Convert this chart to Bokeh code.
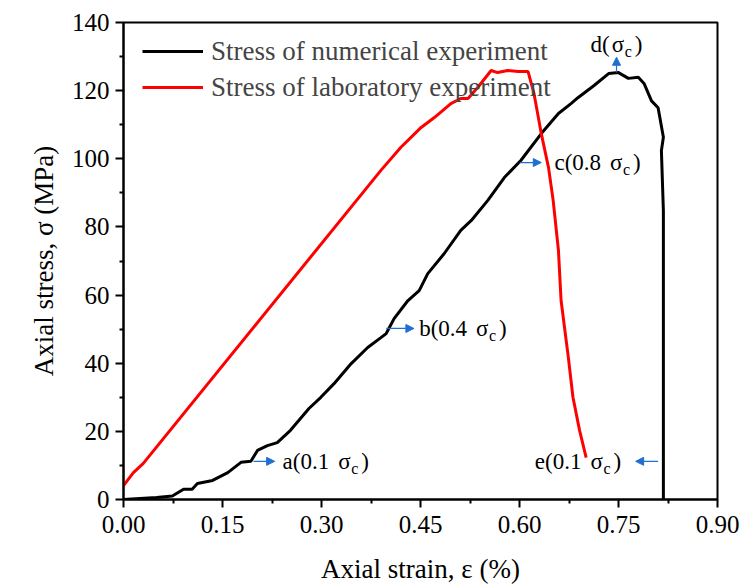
from bokeh.plotting import figure
from bokeh.models import (Range1d, FixedTicker, Label, Arrow, NormalHead,
                          Legend, LegendItem)
from bokeh.embed import file_html
from bokeh.resources import INLINE

# ---------------- data ----------------
num_strain = [0, 0.05, 0.074, 0.091, 0.104, 0.112, 0.135, 0.158, 0.178, 0.193,
              0.203, 0.218, 0.233, 0.253, 0.281, 0.299, 0.319, 0.345, 0.370,
              0.390, 0.398, 0.410, 0.431, 0.448, 0.461, 0.486, 0.511, 0.527,
              0.552, 0.577, 0.602, 0.633, 0.659, 0.678, 0.689, 0.713, 0.735,
              0.750, 0.765, 0.780, 0.789, 0.800, 0.810, 0.818, 0.815, 0.818,
              0.818]
num_stress = [0, 0.6, 1.0, 3.0, 3.0, 4.7, 5.6, 7.9, 10.9, 11.2,
              14.4, 15.8, 16.7, 20.3, 26.7, 30.0, 34.0, 39.9, 44.6,
              47.5, 48.7, 53.1, 58.4, 61.3, 66.3, 72.2, 79.0, 81.9,
              87.8, 94.5, 99.5, 107.4, 113.3, 116.2, 118.0, 121.5, 125.0,
              125.3, 123.6, 123.9, 122.0, 117.0, 115.0, 106.3, 102.4, 84.8,
              0]

lab_strain = [0, 0.015, 0.030, 0.390, 0.420, 0.451, 0.471,
              0.496, 0.511, 0.522, 0.537, 0.557, 0.567, 0.582, 0.598, 0.613,
              0.622, 0.633, 0.644, 0.651, 0.659, 0.663, 0.674, 0.681, 0.691,
              0.701]
lab_stress = [4.1, 7.9, 10.6, 96.6, 103.3, 109.2, 112.1,
              116.2, 117.7, 117.7, 121.0, 125.9, 125.3, 125.9, 125.6, 125.6,
              119.1, 107.4, 97.4, 87.8, 73.1, 58.4, 41.7, 30.0, 20.3,
              12.3]

series_names = ["Stress of numerical experiment", "Stress of laboratory experiment"]
series_colors = ["#000000", "#ff0000"]

x_ticks = [0.0, 0.15, 0.30, 0.45, 0.60, 0.75, 0.90]
x_tick_labels = ["0.00", "0.15", "0.30", "0.45", "0.60", "0.75", "0.90"]
x_minor = [0.075, 0.225, 0.375, 0.525, 0.675, 0.825]
y_ticks = [0, 20, 40, 60, 80, 100, 120, 140]
y_tick_labels = ["0", "20", "40", "60", "80", "100", "120", "140"]
y_minor = [10, 30, 50, 70, 90, 110, 130]

# annotation points: (label prefix, arrow start, arrow end, text anchor, align)
ann_prefix = ["a(0.1", "b(0.4", "c(0.8", "d(", "e(0.1"]
ann_arrow_start = [(0.197, 11.2), (0.398, 50.2), (0.601, 98.9), (0.747, 125.3), (0.810, 11.2)]
ann_arrow_end = [(0.229, 11.2), (0.440, 50.2), (0.633, 98.9), (0.747, 129.8), (0.776, 11.2)]
ann_text_pos = [(0.241, 11.2), (0.448, 50.2), (0.653, 98.9), (0.747, 133.6), (0.754, 11.2)]
ann_align = ["left", "left", "left", "center", "right"]

FONT = "Liberation Serif"
BLUE = "#1f6fd1"

p = figure(width=742, height=588, output_backend="svg", toolbar_location=None,
           x_range=Range1d(0, 0.9), y_range=Range1d(0, 140),
           min_border_left=123, min_border_right=25, min_border_top=22,
           min_border_bottom=89)
p.grid.visible = False
p.outline_line_color = "black"
p.outline_line_width = 2
p.background_fill_color = "white"
p.border_fill_color = "white"

r1 = p.line(num_strain, num_stress, line_color=series_colors[0], line_width=3)
r2 = p.line(lab_strain, lab_stress, line_color=series_colors[1], line_width=3)

for ax, ticks, minor, labels in ((p.xaxis[0], x_ticks, x_minor, x_tick_labels),
                                 (p.yaxis[0], y_ticks, y_minor, y_tick_labels)):
    ax.ticker = FixedTicker(ticks=ticks, minor_ticks=minor)
    ax.major_label_overrides = {t: l for t, l in zip(ticks, labels)}
    ax.axis_line_width = 2
    ax.major_tick_line_width = 2
    ax.minor_tick_line_width = 2
    ax.major_tick_out = 8
    ax.major_tick_in = 0
    ax.minor_tick_out = 4
    ax.minor_tick_in = 0
    ax.major_label_text_font = FONT
    ax.major_label_text_font_size = "25px"
    ax.major_label_text_color = "black"
    ax.axis_label_text_font = FONT
    ax.axis_label_text_font_size = "27px"
    ax.axis_label_text_font_style = "normal"
    ax.axis_label_text_color = "black"

p.xaxis.axis_label = "Axial strain, ε (%)"
p.yaxis.axis_label = "Axial stress, σ (MPa)"
p.xaxis.major_label_standoff = 8
p.yaxis.major_label_standoff = 6
p.xaxis.axis_label_standoff = 18
p.yaxis.axis_label_standoff = 10

legend = Legend(items=[LegendItem(label=series_names[0], renderers=[r1]),
                       LegendItem(label=series_names[1], renderers=[r2])],
                location=(10, 387), border_line_alpha=0,
                background_fill_alpha=0, label_text_font=FONT,
                label_text_font_size="27px", glyph_width=61, glyph_height=32,
                label_height=32, label_standoff=8, spacing=4, padding=9,
                margin=0)
p.add_layout(legend)

# annotations with subscript c
CW = {"a": .444, "b": .5, "c": .444, "d": .5, "e": .444, "(": .333, ")": .333,
      ".": .25, " ": .25}
FS = 23


def tw(s, size):
    return sum(CW.get(ch, 0.5) for ch in s) * size


for pre, st, en, tp, al in zip(ann_prefix, ann_arrow_start, ann_arrow_end,
                               ann_text_pos, ann_align):
    p.add_layout(Arrow(end=NormalHead(size=8, fill_color=BLUE, line_color=BLUE,
                                      line_width=1),
                       x_start=st[0], y_start=st[1], x_end=en[0], y_end=en[1],
                       line_color=BLUE, line_width=1.2))
    gap = 2 if pre == "d(" else 9
    s_off = tw(pre, FS) + gap
    c_off = s_off + 13
    r_off = c_off + 10
    total = r_off + tw(")", FS)
    start = 0 if al == "left" else (-total / 2 if al == "center" else -total)
    pieces = [(pre, start, 0, FS), ("σ", start + s_off, 0, FS),
              ("c", start + c_off, -7, 16), (")", start + r_off, 0, FS)]
    for txt, xo, yo, fs in pieces:
        p.add_layout(Label(x=tp[0], y=tp[1], x_offset=xo, y_offset=yo, text=txt,
                           text_font=FONT, text_font_size=f"{fs}px",
                           text_color="black", text_align="left",
                           text_baseline="middle"))

open("out.html", "w").write(file_html(p, INLINE))
